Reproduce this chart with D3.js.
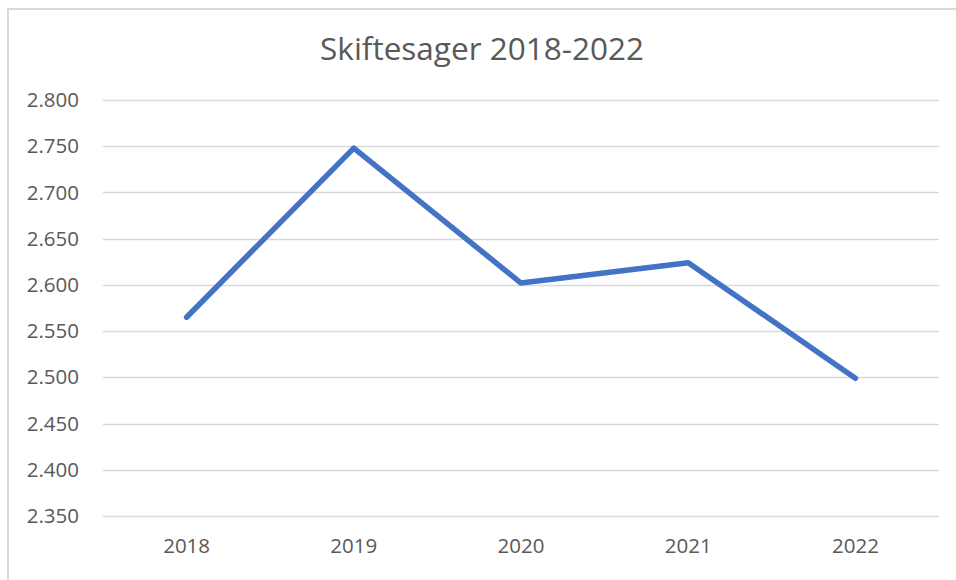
<!DOCTYPE html>
<html>
<head>
<meta charset="utf-8">
<script src="https://cdn.jsdelivr.net/npm/d3@7"></script>
<style>
  body { margin: 0; background: #fff; }
  svg { display: block; }
</style>
</head>
<body>
<div id="chart"></div>
<script>
// Data
const years = ["2018", "2019", "2020", "2021", "2022"];
const cases = [2565, 2748, 2602, 2624, 2499];
const yTicks = [2350, 2400, 2450, 2500, 2550, 2600, 2650, 2700, 2750, 2800];
const chartTitle = "Skiftesager 2018-2022";

const width = 956, height = 580;
const margin = {top: 100, right: 17, bottom: 64, left: 103};
const plotW = width - margin.left - margin.right;
const plotH = height - margin.top - margin.bottom;

const textColor = "#595959";
const gridColor = "#d9d9d9";
const lineColor = "#4472c4";
const font = "'Open Sans', 'Liberation Sans', sans-serif";

// Danish number format: 2.800
const fmt = d3.formatLocale({decimal: ",", thousands: ".", grouping: [3], currency: ["", " kr."]}).format(",.0f");

const svg = d3.select("#chart")
  .append("svg")
  .attr("width", width)
  .attr("height", height);

svg.append("rect")
  .attr("width", width)
  .attr("height", height)
  .attr("fill", "#fff");

// chart area border (right/bottom edges fall outside the picture)
svg.append("rect")
  .attr("x", 8)
  .attr("y", 9)
  .attr("width", width + 20)
  .attr("height", height + 20)
  .attr("fill", "none")
  .attr("stroke", gridColor)
  .attr("stroke-width", 2);

svg.append("text")
  .attr("x", 482)
  .attr("y", 60)
  .attr("text-anchor", "middle")
  .attr("fill", textColor)
  .style("font-family", font)
  .style("font-size", "31.5px")
  .text(chartTitle);

const g = svg.append("g")
  .attr("transform", "translate(" + margin.left + "," + margin.top + ")");

const x = d3.scaleBand().domain(years).range([0, plotW]);
const y = d3.scaleLinear().domain([2350, 2800]).range([plotH, 0]);

// Gridlines
g.append("g")
  .selectAll("line")
  .data(yTicks)
  .enter()
  .append("line")
  .attr("x1", 0)
  .attr("x2", plotW)
  .attr("y1", d => Math.round(y(d)) + 0.5)
  .attr("y2", d => Math.round(y(d)) + 0.5)
  .attr("stroke", gridColor)
  .attr("stroke-width", 1.5);

// Y axis labels
const yAxis = g.append("g")
  .call(d3.axisLeft(y).tickValues(yTicks).tickFormat(fmt).tickSize(0).tickPadding(24));
yAxis.select(".domain").remove();
yAxis.selectAll("text")
  .attr("fill", textColor)
  .style("font-family", font)
  .style("font-size", "20.5px");

// X axis labels
const xAxis = g.append("g")
  .attr("transform", "translate(0," + plotH + ")")
  .call(d3.axisBottom(x).tickSize(0).tickPadding(22));
xAxis.select(".domain").remove();
xAxis.selectAll("text")
  .attr("fill", textColor)
  .style("font-family", font)
  .style("font-size", "20.5px");

// Line
const line = d3.line()
  .x((d, i) => x(years[i]) + x.bandwidth() / 2)
  .y(d => y(d));

g.append("path")
  .datum(cases)
  .attr("fill", "none")
  .attr("stroke", lineColor)
  .attr("stroke-width", 5.5)
  .attr("stroke-linejoin", "round")
  .attr("stroke-linecap", "round")
  .attr("d", line);
</script>
</body>
</html>
